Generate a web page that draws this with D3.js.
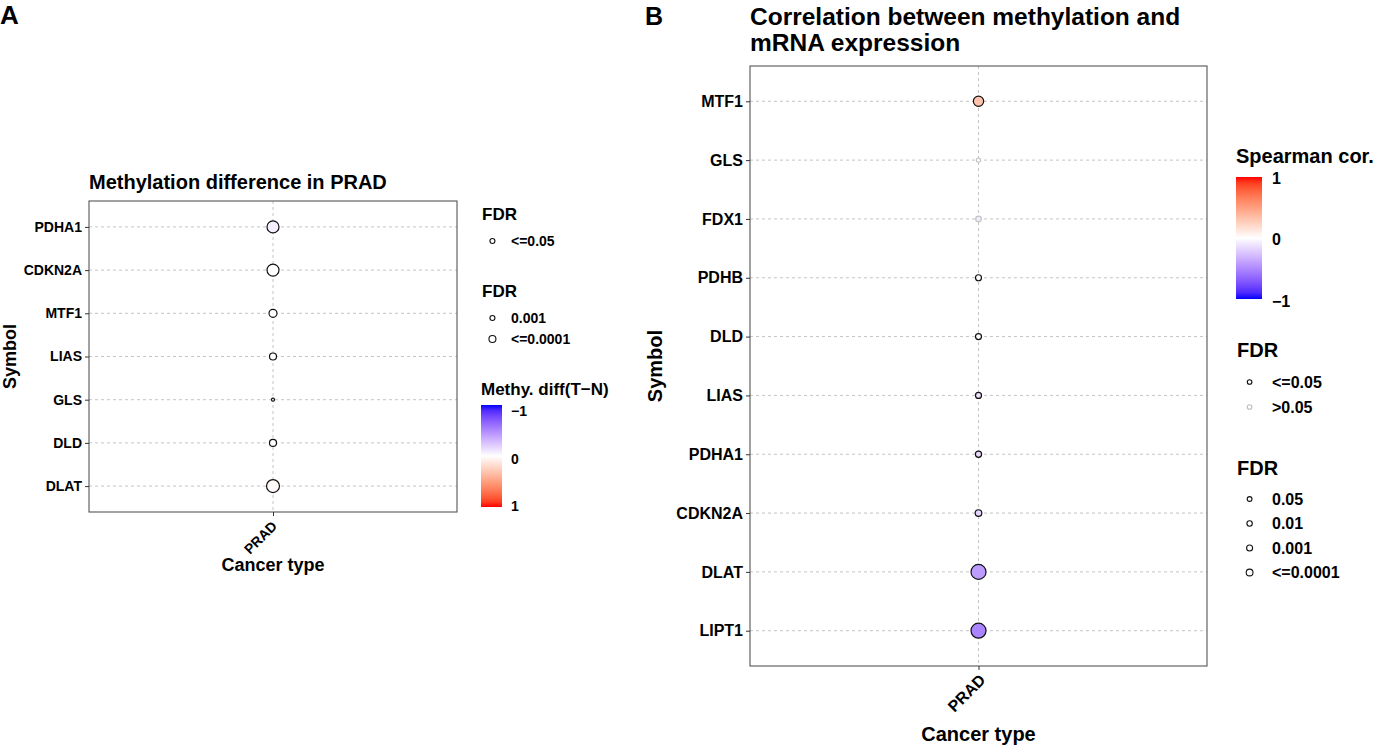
<!DOCTYPE html>
<html><head><meta charset="utf-8">
<script src="https://cdn.jsdelivr.net/npm/d3@7"></script>
<style>
body{margin:0;background:#fff}
svg{display:block}
text{font-family:"Liberation Sans",Arial,Helvetica,sans-serif;font-weight:bold;fill:#000}
</style>
</head><body>
<svg id="c" width="1382" height="746"></svg>
<script>
// ---------- data ----------
const cancerTypes = ["PRAD"];

const genesA = ["PDHA1","CDKN2A","MTF1","LIAS","GLS","DLD","DLAT"];
const methyDiffA = [-0.07, 0, 0, 0, 0, 0, 0.03];
const sizeA = [12.8, 12.8, 5.7, 4.4, 0.8, 4.4, 15];   // -log10(FDR) estimate

const genesB = ["MTF1","GLS","FDX1","PDHB","DLD","LIAS","PDHA1","CDKN2A","DLAT","LIPT1"];
const corB = [0.32, 0, -0.08, 0, -0.02, -0.12, -0.15, -0.18, -0.42, -0.52];
const sizeB = [9.5, 1.6, 2.8, 3.2, 3.2, 3.2, 3.4, 3.9, 20, 20];
const sigB = [true, false, false, true, true, true, true, true, true, true];

const legendA1 = ["<=0.05"];
const legendA2 = ["0.001", "<=0.0001"];
const legendB1 = ["<=0.05", ">0.05"];
const legendB2 = ["0.05", "0.01", "0.001", "<=0.0001"];
const colorTicks = [-1, 0, 1];

// ---------- scales ----------
const svg = d3.select("#c");
const color = d3.scaleLinear().domain([-1, 0, 1]).range(["blue", "white", "red"]).interpolate(d3.interpolateLab);
const rScale = d3.scaleSqrt().domain([0, 20]).range([0, 7.5]);
const GRID = "#c4c4c4";

function panel(o) {
  const g = svg.append("g");
  const y = d3.scalePoint().domain(o.genes).range([o.top, o.bottom]).padding(0.6);
  const x = d3.scalePoint().domain(cancerTypes).range([o.left, o.right]).padding(0.5);
  // grid
  g.selectAll(".hg").data(o.genes).enter().append("line")
    .attr("x1", o.left).attr("x2", o.right).attr("y1", d => y(d)).attr("y2", d => y(d))
    .attr("stroke", GRID).attr("stroke-width", 1).attr("stroke-dasharray", "3,3");
  g.selectAll(".vg").data(cancerTypes).enter().append("line")
    .attr("x1", d => x(d)).attr("x2", d => x(d)).attr("y1", o.top).attr("y2", o.bottom)
    .attr("stroke", GRID).attr("stroke-width", 1).attr("stroke-dasharray", "3,3");
  // box
  g.append("rect").attr("x", o.left).attr("y", o.top).attr("width", o.right - o.left).attr("height", o.bottom - o.top)
    .attr("fill", "none").attr("stroke", "#555").attr("stroke-width", 1.1);
  // y axis
  const ya = d3.axisLeft(y).tickSize(4).tickPadding(3);
  const yg = g.append("g").attr("transform", `translate(${o.left},0)`).call(ya);
  yg.select(".domain").remove();
  yg.selectAll(".tick line").attr("stroke", "#333");
  yg.selectAll(".tick text").style("font-size", o.tickFont + "px").style("font-family", "Liberation Sans, Arial, sans-serif").style("font-weight", "bold").attr("fill", "#000");
  // x axis
  const xa = d3.axisBottom(x).tickSize(4).tickFormat("");
  const xg = g.append("g").attr("transform", `translate(0,${o.bottom})`).call(xa);
  xg.select(".domain").remove();
  xg.selectAll(".tick line").attr("stroke", "#333");
  g.selectAll(".xl").data(cancerTypes).enter().append("text")
    .attr("transform", d => `translate(${x(d) + o.xlabDx},${o.bottom + o.xlabDy}) rotate(-45)`)
    .attr("text-anchor", "end").style("font-size", o.tickFont + "px").text(d => d);
  // points
  g.selectAll(".pt").data(o.genes).enter().append("circle")
    .attr("cx", x(cancerTypes[0])).attr("cy", d => y(d))
    .attr("r", (d, i) => rScale(o.size[i]))
    .attr("fill", (d, i) => color(o.val[i]))
    .attr("stroke", (d, i) => o.sig[i] ? "#111" : "#c2c2c2")
    .attr("stroke-width", 1.2);
  // axis titles
  g.append("text").attr("x", (o.left + o.right) / 2).attr("y", o.xTitleY).attr("text-anchor", "middle")
    .style("font-size", o.axisFont + "px").text("Cancer type");
  g.append("text").attr("transform", `translate(${o.yTitleX},${(o.top + o.bottom) / 2}) rotate(-90)`)
    .attr("text-anchor", "middle").style("font-size", o.axisFont + "px").text("Symbol");
  return g;
}

// ---------- Panel A ----------
svg.append("text").attr("x", 0).attr("y", 24).style("font-size", "26px").text("A");
svg.append("text").attr("x", 89).attr("y", 189).style("font-size", "20px").text("Methylation difference in PRAD");
panel({
  genes: genesA, val: methyDiffA, size: sizeA, sig: genesA.map(() => true),
  left: 89, right: 457, top: 201, bottom: 512,
  tickFont: 14, axisFont: 18, xlabDx: 5, xlabDy: 15, xTitleY: 571, yTitleX: 16
});

// ---------- Panel B ----------
svg.append("text").attr("x", 645).attr("y", 25).style("font-size", "25px").text("B");
const tB = svg.append("text").style("font-size", "24.5px");
tB.append("tspan").attr("x", 750).attr("y", 25).text("Correlation between methylation and");
tB.append("tspan").attr("x", 750).attr("y", 51).text("mRNA expression");
panel({
  genes: genesB, val: corB, size: sizeB, sig: sigB,
  left: 750, right: 1207, top: 66, bottom: 666,
  tickFont: 16, axisFont: 20, xlabDx: 8, xlabDy: 15, xTitleY: 741, yTitleX: 662
});

// ---------- legends ----------
function sizeLegend(x, titleY, rows, labels, radii, strokes, titleFont, labFont, textX) {
  svg.append("text").attr("x", x).attr("y", titleY).style("font-size", titleFont + "px").text("FDR");
  labels.forEach((l, i) => {
    svg.append("circle").attr("cx", x + (textX - x) * 0.36).attr("cy", rows[i]).attr("r", radii[i])
      .attr("fill", "white").attr("stroke", strokes[i]).attr("stroke-width", 1.1);
    svg.append("text").attr("x", textX).attr("y", rows[i]).attr("dy", "0.36em").style("font-size", labFont + "px").text(l);
  });
}
function colorBar(id, x, y0, y1, w, flip, title, titleY, labRange, labFont, titleFont, textX) {
  const defs = svg.append("defs");
  const grad = defs.append("linearGradient").attr("id", id).attr("x1", 0).attr("x2", 0).attr("y1", 0).attr("y2", 1);
  d3.range(0, 1.0001, 0.05).forEach(t => {
    const v = flip ? (-1 + 2 * t) : (1 - 2 * t);
    grad.append("stop").attr("offset", t).attr("stop-color", color(v));
  });
  svg.append("text").attr("x", x).attr("y", titleY).style("font-size", titleFont + "px").text(title);
  svg.append("rect").attr("x", x).attr("y", y0).attr("width", w).attr("height", y1 - y0).attr("fill", `url(#${id})`);
  const ls = d3.scaleLinear().domain(flip ? [-1, 1] : [1, -1]).range(labRange);
  colorTicks.forEach(v => {
    svg.append("text").attr("x", textX).attr("y", ls(v)).attr("dy", "0.36em").style("font-size", labFont + "px")
      .text(v < 0 ? "\u2212" + Math.abs(v) : String(v));
  });
}

// Panel A legends
sizeLegend(482, 220, [241], legendA1, [2.5], ["#111"], 17, 14, 511);
sizeLegend(482, 297, [318, 339], legendA2, [2.5, 3.5], ["#111", "#111"], 17, 14, 511);
colorBar("gA", 481, 405, 507, 21, true, "Methy. diff(T\u2212N)", 395, [411, 506], 14, 17, 511);

// Panel B legends
colorBar("gB", 1236, 177, 299, 26, false, "Spearman cor.", 163, [178, 301], 16, 20, 1272);
sizeLegend(1237, 357, [382, 407], legendB1, [2.3, 2.3], ["#111", "#bdbdbd"], 20, 16, 1272);
sizeLegend(1237, 475, [499, 523.5, 548, 572.5], legendB2, [2.4, 2.7, 3.0, 3.4], ["#111", "#111", "#111", "#111"], 20, 16, 1272);
</script>
</body></html>
